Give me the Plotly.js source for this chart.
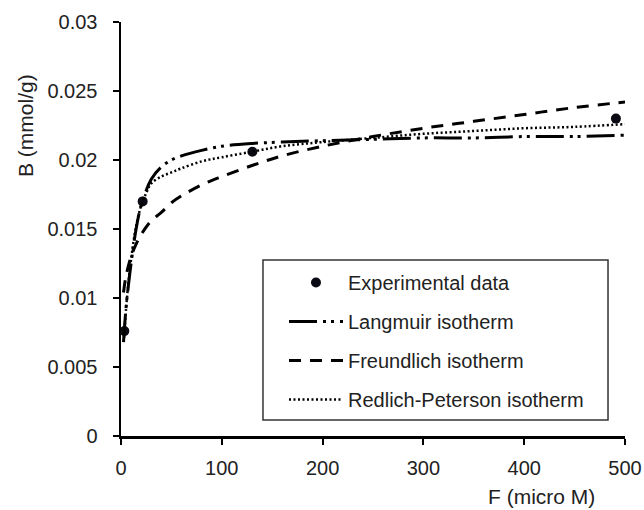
<!DOCTYPE html>
<html>
<head>
<meta charset="utf-8">
<script src="https://cdn.plot.ly/plotly-3.0.1.min.js"></script>
<style>
  html, body { margin: 0; padding: 0; background: #ffffff; }
  #chart { width: 644px; height: 510px; }
</style>
</head>
<body>
<div id="chart"></div>
<script>
// Equilibrium concentration F (micro M) and measured uptake B (mmol/g)
const expF = [3.3, 21.5, 130.3, 491];
const expB = [0.0076, 0.0170, 0.0206, 0.0230];

// Fitted isotherm curves
const langF = [2.5, 5, 7.5, 10, 15, 20, 30, 40, 50, 60, 80, 100, 130, 160, 200, 250, 300, 350, 400, 450, 500];
const langB = [0.0068, 0.0093, 0.0110, 0.0125, 0.0150, 0.0167, 0.0186, 0.0195, 0.0200, 0.0203, 0.0207, 0.0210, 0.0212, 0.0213, 0.0214, 0.0215, 0.0216, 0.0216, 0.0217, 0.0217, 0.0218];

const freuF = [2.5, 5, 10, 15, 20, 30, 40, 50, 60, 80, 100, 130, 160, 200, 250, 300, 350, 400, 450, 500];
const freuB = [0.0104, 0.0116, 0.0130, 0.0139, 0.0146, 0.0156, 0.0162, 0.0169, 0.0174, 0.0182, 0.0188, 0.0196, 0.0203, 0.0210, 0.0217, 0.0223, 0.0228, 0.0233, 0.0238, 0.0242];

const rpF = [3, 5, 7.5, 10, 15, 20, 25, 30, 40, 50, 60, 80, 100, 130, 160, 200, 250, 300, 350, 400, 450, 500];
const rpB = [0.0071, 0.0092, 0.0112, 0.0128, 0.0152, 0.0167, 0.0176, 0.0183, 0.0188, 0.0191, 0.0194, 0.0199, 0.0202, 0.0206, 0.0210, 0.0213, 0.0216, 0.0219, 0.0221, 0.0223, 0.0224, 0.0226];

const xTicks = [0, 100, 200, 300, 400, 500];
const yTicks = [0, 0.005, 0.01, 0.015, 0.02, 0.025, 0.03];

const FONT = 'Liberation Sans, Arial, Helvetica, sans-serif';

const traces = [
  {
    x: expF, y: expB, type: 'scatter', mode: 'markers',
    name: 'Experimental data', legendgroup: 'a',
    marker: { color: '#0a0a14', size: 10 }
  },
  {
    x: langF, y: langB, type: 'scatter', mode: 'lines',
    name: 'Langmuir isotherm', legendgroup: 'b',
    line: { color: '#000000', width: 3, dash: '28px,6px,3px,5px,3px,6px', shape: 'spline' }
  },
  {
    x: freuF, y: freuB, type: 'scatter', mode: 'lines',
    name: 'Freundlich isotherm', legendgroup: 'c',
    line: { color: '#000000', width: 3, dash: '12px,9px', shape: 'spline' }
  },
  {
    x: rpF, y: rpB, type: 'scatter', mode: 'lines',
    name: 'Redlich-Peterson isotherm', legendgroup: 'd',
    line: { color: '#000000', width: 2.5, dash: '2px,2.5px', shape: 'spline' }
  }
];

const axisCommon = {
  showgrid: false,
  zeroline: false,
  showline: true,
  linecolor: '#000000',
  linewidth: 2.5,
  ticks: 'outside',
  ticklen: 6,
  tickwidth: 2,
  tickcolor: '#000000',
  tickfont: { family: FONT, size: 20, color: '#222222' }
};

const layout = {
  width: 644,
  height: 510,
  paper_bgcolor: '#ffffff',
  plot_bgcolor: '#ffffff',
  margin: { l: 121, r: 19, t: 22, b: 74 },
  showlegend: true,
  legend: {
    x: 0.3234, y: 0.4178, xanchor: 'left', yanchor: 'top',
    bgcolor: 'rgba(0,0,0,0)', borderwidth: 0,
    itemwidth: 54,
    tracegroupgap: 10,
    traceorder: 'grouped',
    font: { family: FONT, size: 20, color: '#222222' }
  },
  xaxis: Object.assign({}, axisCommon, {
    range: [0, 500],
    tickmode: 'array', tickvals: xTicks,
    ticklabelstandoff: 6
  }),
  yaxis: Object.assign({}, axisCommon, {
    range: [0, 0.03],
    tickmode: 'array', tickvals: yTicks,
    ticktext: yTicks.map(v => String(v)),
    ticklabelstandoff: 11
  }),
  shapes: [
    {
      type: 'rect', xref: 'paper', yref: 'paper',
      x0: 0.2817, x1: 0.9663, y0: 0.0386, y1: 0.4251,
      line: { color: '#333333', width: 1.5 },
      fillcolor: 'rgba(0,0,0,0)', layer: 'below'
    }
  ],
  annotations: [
    {
      text: 'F (micro M)', xref: 'paper', yref: 'paper',
      x: 0.835, y: -0.1473, xanchor: 'center', yanchor: 'middle',
      showarrow: false, font: { family: FONT, size: 21, color: '#222222' }
    },
    {
      text: 'B (mmol/g)', xref: 'paper', yref: 'paper',
      x: -0.1905, y: 0.7512, xanchor: 'center', yanchor: 'middle',
      textangle: -90,
      showarrow: false, font: { family: FONT, size: 21, color: '#222222' }
    }
  ]
};

Plotly.newPlot('chart', traces, layout, { displayModeBar: false, staticPlot: true });
</script>
</body>
</html>
